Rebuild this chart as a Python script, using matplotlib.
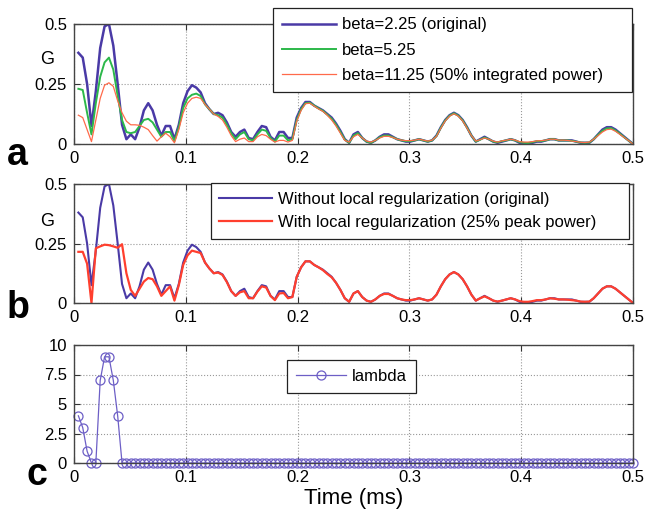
import numpy as np
import matplotlib
matplotlib.use('Agg')
import matplotlib.pyplot as plt

plt.rcParams['font.family'] = ['Liberation Sans', 'DejaVu Sans']

# sample grid: 128 samples, 1/256 ms apart
t = np.arange(1, 129) / 256.0

# panel a: G for three beta values
g_beta225 = [0.38, 0.36, 0.25, 0.075, 0.22, 0.40, 0.49, 0.50, 0.41, 0.25,
             0.08, 0.02, 0.04, 0.02, 0.07, 0.14, 0.17, 0.14, 0.08, 0.035,
             0.075, 0.075, 0.02, 0.08, 0.17, 0.22, 0.245, 0.235, 0.215, 0.17,
             0.145, 0.125, 0.13, 0.12, 0.09, 0.05, 0.03, 0.05, 0.06, 0.025,
             0.02, 0.05, 0.075, 0.07, 0.03, 0.015, 0.05, 0.05, 0.025, 0.025,
             0.11, 0.15, 0.175, 0.175, 0.16, 0.15, 0.14, 0.125, 0.11, 0.085,
             0.055, 0.02, 0.005, 0.04, 0.05, 0.025, 0.01, 0.005, 0.015, 0.03,
             0.04, 0.04, 0.03, 0.02, 0.015, 0.01, 0.01, 0.015, 0.02, 0.015,
             0.01, 0.015, 0.035, 0.07, 0.10, 0.12, 0.13, 0.12, 0.10, 0.07,
             0.035, 0.01, 0.02, 0.03, 0.02, 0.01, 0.005, 0.01, 0.015, 0.02,
             0.015, 0.005, 0.0, 0.0, 0.005, 0.01, 0.01, 0.015, 0.02, 0.02,
             0.015, 0.015, 0.015, 0.015, 0.01, 0.005, 0.005, 0.005, 0.02, 0.04,
             0.06, 0.07, 0.07, 0.06, 0.045, 0.03, 0.015, 0.0]

g_beta525 = [0.23, 0.225, 0.13, 0.04, 0.17, 0.28, 0.34, 0.36, 0.31, 0.20,
             0.10, 0.05, 0.045, 0.05, 0.075, 0.10, 0.105, 0.09, 0.06, 0.03,
             0.05, 0.05, 0.012, 0.07, 0.15, 0.19, 0.205, 0.21, 0.20, 0.165,
             0.145, 0.125, 0.12, 0.11, 0.08, 0.045, 0.02, 0.04, 0.05, 0.02,
             0.015, 0.04, 0.06, 0.055, 0.025, 0.01, 0.035, 0.035, 0.015, 0.02,
             0.10, 0.145, 0.17, 0.172, 0.16, 0.148, 0.138, 0.122, 0.105, 0.08,
             0.05, 0.018, 0.005, 0.035, 0.045, 0.025, 0.01, 0.005, 0.015, 0.028,
             0.035, 0.035, 0.028, 0.02, 0.015, 0.012, 0.012, 0.015, 0.02, 0.015,
             0.01, 0.015, 0.033, 0.068, 0.098, 0.118, 0.128, 0.118, 0.098, 0.068,
             0.035, 0.01, 0.018, 0.027, 0.02, 0.01, 0.007, 0.012, 0.015, 0.02,
             0.015, 0.008, 0.005, 0.004, 0.008, 0.012, 0.012, 0.015, 0.02, 0.02,
             0.015, 0.015, 0.015, 0.013, 0.01, 0.006, 0.005, 0.006, 0.02, 0.038,
             0.055, 0.065, 0.066, 0.056, 0.043, 0.028, 0.014, 0.0]

g_beta1125 = [0.12, 0.11, 0.06, 0.01, 0.10, 0.19, 0.245, 0.255, 0.24, 0.18,
              0.13, 0.095, 0.08, 0.08, 0.078, 0.07, 0.06, 0.035, 0.012, 0.03,
              0.045, 0.03, 0.005, 0.06, 0.13, 0.17, 0.19, 0.195, 0.19, 0.165,
              0.145, 0.125, 0.115, 0.10, 0.07, 0.035, 0.01, 0.02, 0.025, 0.01,
              0.01, 0.03, 0.04, 0.035, 0.02, 0.008, 0.015, 0.015, 0.008, 0.015,
              0.095, 0.14, 0.168, 0.17, 0.158, 0.146, 0.136, 0.12, 0.10, 0.075,
              0.045, 0.015, 0.008, 0.03, 0.04, 0.025, 0.012, 0.008, 0.015, 0.025,
              0.032, 0.032, 0.027, 0.02, 0.016, 0.014, 0.014, 0.016, 0.02, 0.016,
              0.012, 0.016, 0.032, 0.066, 0.096, 0.116, 0.126, 0.116, 0.096, 0.066,
              0.035, 0.012, 0.018, 0.025, 0.02, 0.012, 0.008, 0.013, 0.016, 0.02,
              0.016, 0.01, 0.008, 0.008, 0.01, 0.013, 0.014, 0.016, 0.02, 0.02,
              0.016, 0.016, 0.015, 0.012, 0.01, 0.007, 0.006, 0.008, 0.02, 0.035,
              0.05, 0.06, 0.062, 0.053, 0.04, 0.027, 0.014, 0.0]

# panel b: with local regularization
g_local = [0.215, 0.215, 0.165, 0.0, 0.23, 0.238, 0.245, 0.243, 0.238, 0.232,
           0.247, 0.125, 0.055, 0.03, 0.06, 0.09, 0.105, 0.10, 0.07, 0.03,
           0.05, 0.07, 0.01, 0.075, 0.16, 0.20, 0.22, 0.215, 0.21, 0.17,
           0.145, 0.125, 0.128, 0.118, 0.088, 0.05, 0.03, 0.045, 0.05, 0.02,
           0.02, 0.048, 0.07, 0.065, 0.03, 0.012, 0.04, 0.042, 0.02, 0.025,
           0.11, 0.15, 0.175, 0.175, 0.16, 0.15, 0.138, 0.122, 0.108, 0.085,
           0.055, 0.02, 0.005, 0.04, 0.05, 0.025, 0.01, 0.005, 0.015, 0.03,
           0.038, 0.038, 0.03, 0.02, 0.015, 0.012, 0.012, 0.015, 0.02, 0.015,
           0.01, 0.015, 0.035, 0.07, 0.10, 0.12, 0.13, 0.12, 0.10, 0.07,
           0.035, 0.01, 0.02, 0.028, 0.02, 0.01, 0.006, 0.01, 0.015, 0.02,
           0.015, 0.008, 0.005, 0.005, 0.008, 0.012, 0.012, 0.015, 0.02, 0.018,
           0.015, 0.015, 0.014, 0.012, 0.01, 0.006, 0.005, 0.006, 0.02, 0.04,
           0.06, 0.07, 0.07, 0.06, 0.045, 0.03, 0.015, 0.0]

# panel c: lambda
lam = [4, 3, 1, 0, 0, 7, 9, 9, 7, 4] + [0] * 118

BLUE = '#4a3aa6'
GREEN = '#2cb84a'
ORANGE = '#ff6a4a'
RED = '#ff3f2e'
LAMC = '#6d5fc6'

W, H = 645, 512
fig = plt.figure(figsize=(W / 100, H / 100), dpi=100)

def px_axes(left, right, top, bottom):
    return fig.add_axes([left / W, 1 - bottom / H, (right - left) / W, (bottom - top) / H])

def px_box(left, right, top, bottom):
    return (left / W, 1 - bottom / H, (right - left) / W, (bottom - top) / H)

def style(ax, ymax, yticks, ylabels):
    ax.set_xlim(0, 0.5)
    ax.set_ylim(0, ymax)
    ax.set_xticks([0, 0.1, 0.2, 0.3, 0.4, 0.5])
    ax.set_xticklabels(['0', '0.1', '0.2', '0.3', '0.4', '0.5'])
    ax.set_yticks(yticks)
    ax.set_yticklabels(ylabels)
    ax.tick_params(direction='in', top=True, right=True, length=4, width=0.8,
                   labelsize=12, color='#333333', pad=5)
    ax.grid(True, linestyle=':', color='#999999', linewidth=0.8)
    for s in ax.spines.values():
        s.set_color('#444444')
        s.set_linewidth(1.0)

def add_legend(ax, box, **kw):
    leg = ax.legend(loc='upper left', bbox_to_anchor=box, mode='expand',
                    bbox_transform=fig.transFigure, borderaxespad=0, fontsize=12,
                    fancybox=False, framealpha=1, edgecolor='#222222',
                    handletextpad=0.35, **kw)
    leg.get_frame().set_linewidth(0.9)
    return leg

ax_a = px_axes(74, 633, 24, 144)
ax_b = px_axes(74, 633, 184, 303)
ax_c = px_axes(74, 633, 345, 463)

# --- a ---
ax_a.plot(t, g_beta225, color=BLUE, lw=1.8, label='beta=2.25 (original)')
ax_a.plot(t, g_beta525, color=GREEN, lw=1.4, label='beta=5.25')
ax_a.plot(t, g_beta1125, color=ORANGE, lw=0.9, label='beta=11.25 (50% integrated power)')
style(ax_a, 0.5, [0, 0.25, 0.5], ['0', '0.25', '0.5'])
add_legend(ax_a, px_box(272.7, 631.7, 8.3, 95), handlelength=3.25,
           labelspacing=0.62, borderpad=0.55)

# --- b ---
ax_b.plot(t, g_beta225, color=BLUE, lw=1.5, label='Without local regularization (original)')
ax_b.plot(t, g_local, color=RED, lw=1.6, label='With local regularization (25% peak power)')
style(ax_b, 0.5, [0, 0.25, 0.5], ['0', '0.25', '0.5'])
add_legend(ax_b, px_box(210.7, 629.3, 183.3, 241.7), handlelength=3.2,
           labelspacing=0.52, borderpad=0.5)

# --- c ---
ax_c.plot(t, lam, color=LAMC, lw=0.9, marker='o', ms=6.5, mfc='none', mec=LAMC,
          mew=0.9, label='lambda', clip_on=False)
style(ax_c, 10, [0, 2.5, 5, 7.5, 10], ['0', '2.5', '5', '7.5', '10'])
ax_c.set_xlabel('Time (ms)', fontsize=16, labelpad=2)
add_legend(ax_c, px_box(287.3, 415.7, 360, 394.3), handlelength=3.0,
           borderpad=0.53)

# y labels, upright, between the 0.5 and 0.25 tick labels
ax_a.set_ylabel('G', fontsize=13, rotation=0, ha='center', va='center')
ax_a.yaxis.set_label_coords((47 - 74) / 559, (144 - 60) / 120)
ax_b.set_ylabel('G', fontsize=13, rotation=0, ha='center', va='center')
ax_b.yaxis.set_label_coords((47 - 74) / 559, (303 - 221) / 119)

# panel letters
for letter, xl, yb in [('a', 7, 165), ('b', 7, 318), ('c', 27, 485)]:
    fig.text(xl / W, 1 - yb / H, letter, fontsize=27, fontweight='bold',
             ha='left', va='baseline')

fig.savefig('out.png', dpi=100)
